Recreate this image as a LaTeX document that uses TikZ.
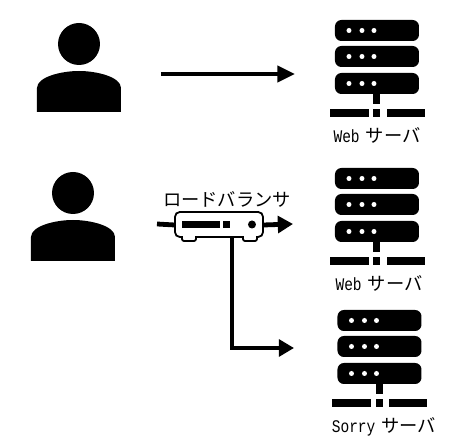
\documentclass[tikz,border=0pt]{standalone}
\usepackage{fontspec}
\setmainfont{Noto Sans CJK JP}
\newfontfamily\latinlabel[FakeStretch=0.82]{Liberation Mono}
\usetikzlibrary{arrows.meta}
\newcommand{\srvlabel}[2]{{\latinlabel\fontsize{12.6pt}{14pt}\selectfont #1}\,\,#2}
\begin{document}
\begin{tikzpicture}[
   x=0.025cm,y=-0.025cm,
   conn/.style={line width=1.2mm,draw=black},
   thinconn/.style={line width=0.95mm,draw=black,-{Triangle[length=4.4mm,width=4mm]}},
   thickconn/.style={conn,-{Triangle[length=3.8mm,width=4.2mm]}},
   lbhit/.style={minimum width=2.2cm,minimum height=0.62cm,inner sep=0pt},
   label/.style={font=\fontsize{13pt}{15pt}\selectfont,inner sep=0pt},
   userpic/.pic={
     \fill (0,-30) circle [radius=21];
     \fill (-42,38) -- (-42,14) .. controls (-42,3) and (-18,-3) .. (0,-3)
        .. controls (18,-3) and (42,3) .. (42,14) -- (42,38) -- cycle;
   },
   serverpic/.pic={
     \foreach \y in {-54,-28,-1} {
       \fill[rounded corners=1.6mm] (-42,\y) rectangle (42,\y+21);
       \foreach \x in {-28,-15,-3} {
         \fill[white] (\x,\y+10.5) circle [radius=2.5];
       }
     }
     \fill (-3.5,20) rectangle (3.5,30);
     \fill (-47,35) rectangle (-8,43);
     \fill (-3.5,35) rectangle (3.5,43);
     \fill (10,35) rectangle (48,43);
   }
 ]
  \useasboundingbox (0,0) rectangle (450,445);

  % clients
  \pic (user1) at (79,74) {userpic};
  \pic (user2) at (73,223) {userpic};

  % servers
  \pic (web1) at (377,74) {serverpic};
  \pic (web2) at (377,222) {serverpic};
  \pic (sorry) at (379.5,364) {serverpic};
  \node[label] (web1txt) at (377,135) {\srvlabel{Web}{サーバ}};
  \node[label] (web2txt) at (379,283) {\srvlabel{Web}{サーバ}};
  \node[label] (sorrytxt) at (384,427) {\srvlabel{Sorry}{サーバ}};

  % arrow ends
  \coordinate (top0) at (161,74);
  \coordinate (top1) at (295,74);
  \coordinate (in) at (157,224);
  \coordinate (out) at (293,224);
  \coordinate (bend) at (232,348);
  \coordinate (sorryin) at (294,348);

  \draw[thinconn] (top0)--(top1);

  % load balancer
  \node[lbhit] (lb) at (219,225) {};
  \draw[conn] (in)--(lb.west);
  \draw[thickconn] (lb.east)--(out);
  \draw[thickconn] (lb.south -| bend)--(bend)--(sorryin);
  \draw[line width=0.45mm,fill=white]
    (175,225) [rounded corners=1.2mm] -- (175,212) -- (263,212) -- (263,237)
    [sharp corners] -- (257,237) [rounded corners=0.5mm] -- (257,241) -- (243,241)
    [sharp corners] -- (243,237) -- (196,237) [rounded corners=0.5mm] -- (196,241) -- (182,241)
    [sharp corners] -- (182,237) [rounded corners=1.2mm] -- (175,237) -- cycle;
  \fill (182,221) rectangle (220,228);
  \fill (223,221) rectangle (230,228);
  \fill (252,224.5) circle [radius=4];
  \node[label] (lbtxt) at (227,199) {ロードバランサ};
 \end{tikzpicture}
\end{document}
